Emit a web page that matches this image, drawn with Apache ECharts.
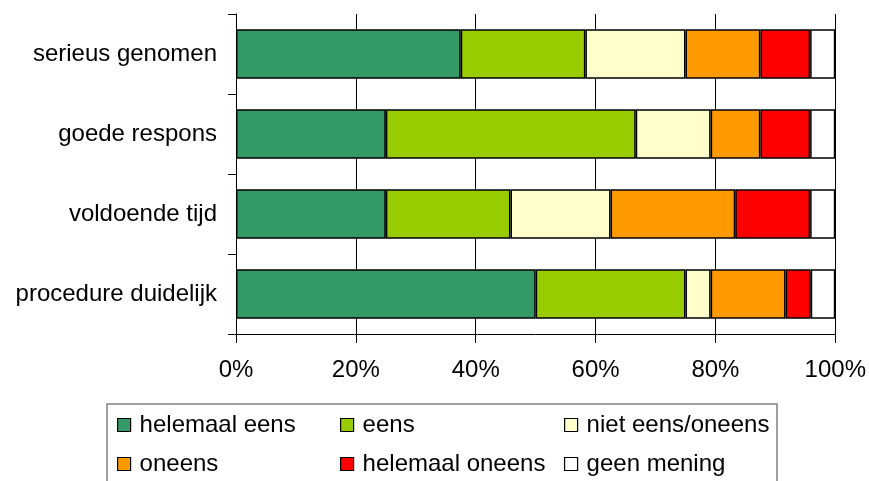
<!DOCTYPE html>
<html>
<head>
<meta charset="utf-8">
<script src="https://cdn.jsdelivr.net/npm/echarts@6/dist/echarts.min.js"></script>
<style>
  html, body { margin: 0; padding: 0; background: #fff; }
  #chart { width: 869px; height: 481px; }
</style>
</head>
<body>
<div id="chart"></div>
<script>
// categories, top to bottom
var categories = ['serieus genomen', 'goede respons', 'voldoende tijd', 'procedure duidelijk'];

// share of answers per category (%)
var helemaalEens   = [37.5, 25.0, 25.0, 50.0];
var eens           = [20.8, 41.7, 20.8, 25.0];
var nietEensOneens = [16.7, 12.5, 16.7, 4.2];
var oneens         = [12.5, 8.3, 20.8, 12.5];
var helemaalOneens = [8.3, 8.3, 12.5, 4.2];
var geenMening     = [4.2, 4.2, 4.2, 4.1];

var seriesNames = ['helemaal eens', 'eens', 'niet eens/oneens', 'oneens', 'helemaal oneens', 'geen mening'];
var seriesData = [helemaalEens, eens, nietEensOneens, oneens, helemaalOneens, geenMening];
var colors = ['#339966', '#99cc00', '#ffffcc', '#ff9900', '#ff0000', '#ffffff'];

var myChart = echarts.init(document.getElementById('chart'));

var font = 'Liberation Sans, Arial, sans-serif';

var series = seriesNames.map(function (name, i) {
    return {
        name: name,
        type: 'bar',
        stack: 'total',
        barWidth: '62%',
        data: seriesData[i],
        itemStyle: {
            color: colors[i],
            borderColor: '#000',
            borderWidth: 1.5
        },
        emphasis: { disabled: true }
    };
});

// legend in three columns of two items
function legendCol(left, names) {
    return {
        orient: 'vertical',
        left: left,
        top: 413,
        padding: 0,
        itemGap: 15,
        itemWidth: 13,
        itemHeight: 13,
        icon: 'rect',
        selectedMode: false,
        data: names,
        itemStyle: { borderColor: '#000', borderWidth: 1.2 },
        textStyle: { fontFamily: font, fontSize: 24, color: '#000', lineHeight: 24, padding: [0, 0, 0, 4] }
    };
}

var option = {
    animation: false,
    color: colors,
    grid: { left: 236, right: 32, top: 14, bottom: 147 },
    legend: [
        legendCol(117, ['helemaal eens', 'oneens']),
        legendCol(340, ['eens', 'helemaal oneens']),
        legendCol(564, ['niet eens/oneens', 'geen mening'])
    ],
    graphic: [{
        type: 'rect',
        shape: { x: 107, y: 404, width: 670, height: 90 },
        style: { fill: 'none', stroke: '#808080', lineWidth: 1.5 },
        silent: true
    }],
    xAxis: {
        type: 'value',
        min: 0,
        max: 100,
        interval: 20,
        axisLine: { show: true, lineStyle: { color: '#000' } },
        axisTick: { show: true, length: 9, lineStyle: { color: '#000' } },
        splitLine: { show: true, lineStyle: { color: '#000', width: 1 } },
        axisLabel: {
            formatter: '{value}%',
            fontFamily: font,
            fontSize: 24,
            color: '#000',
            margin: 24
        }
    },
    yAxis: {
        type: 'category',
        inverse: true,
        data: categories,
        axisLine: { show: true, lineStyle: { color: '#000' } },
        axisTick: { show: true, length: 8, lineStyle: { color: '#000' } },
        axisLabel: {
            fontFamily: font,
            fontSize: 24,
            color: '#000',
            margin: 19
        }
    },
    series: series
};

myChart.setOption(option);
</script>
</body>
</html>
